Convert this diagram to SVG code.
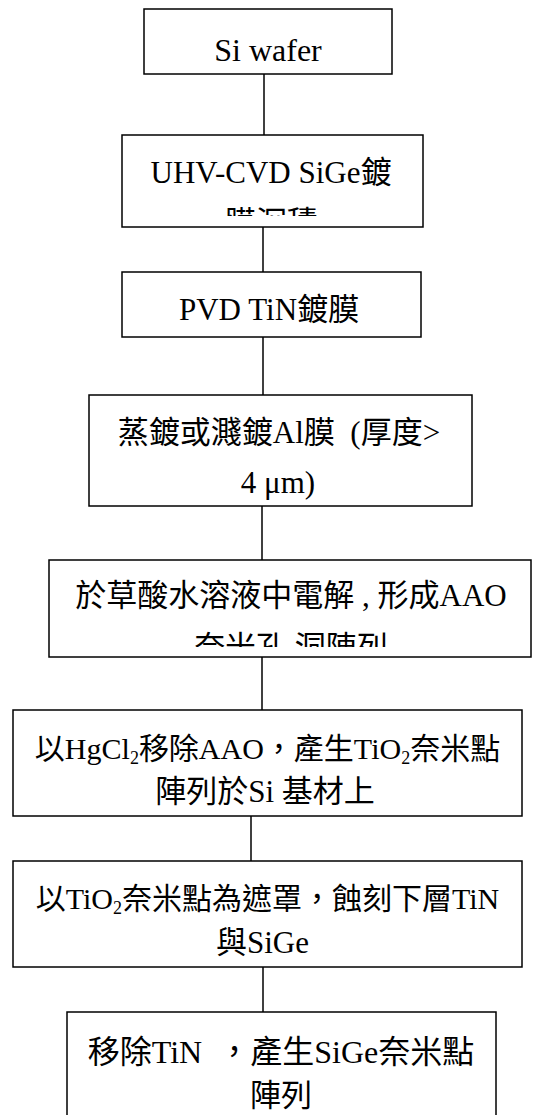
<svg xmlns="http://www.w3.org/2000/svg" width="549" height="1115" viewBox="0 0 549 1115">
<style>
.box{fill:#fff;stroke:#000;stroke-width:1.5}
.t{font-family:"Liberation Serif","Noto Sans CJK TC",serif;font-size:31px;fill:#000;text-anchor:middle}
.c{stroke:#000;stroke-width:1.5;fill:none}
</style>
<defs>
<clipPath id="clip2"><rect x="122" y="135" width="301" height="81"/></clipPath>
<clipPath id="clip5"><rect x="49" y="560" width="482" height="87"/></clipPath>
</defs>
<rect width="549" height="1115" fill="#fff"/>
<g id="connectors">
<line class="c" x1="264" y1="74" x2="264" y2="135"/>
<line class="c" x1="263" y1="227" x2="263" y2="272"/>
<line class="c" x1="263" y1="337" x2="263" y2="395"/>
<line class="c" x1="262" y1="506" x2="262" y2="560"/>
<line class="c" x1="262" y1="657" x2="262" y2="710"/>
<line class="c" x1="251" y1="816" x2="251" y2="861"/>
<line class="c" x1="263" y1="967" x2="263" y2="1012"/>
</g>
<g id="n1">
<rect class="box" x="144" y="9" width="248" height="65"/>
<text class="t" x="268" y="61" style="font-size:32px">Si wafer</text>
</g>
<g id="n2">
<rect class="box" x="122" y="135" width="301" height="92"/>
<g clip-path="url(#clip2)">
<text class="t" x="271" y="183">UHV-CVD SiGe鍍</text>
<text class="t" x="271" y="233">膜沉積</text>
</g>
</g>
<g id="n3">
<rect class="box" x="122" y="272" width="299" height="65"/>
<text class="t" x="269" y="320">PVD TiN鍍膜</text>
</g>
<g id="n4">
<rect class="box" x="89" y="395" width="383" height="111"/>
<text class="t" x="279" y="443">蒸鍍或濺鍍Al膜&#160;&#160;(厚度&gt;</text>
<text class="t" x="278" y="493">4 μm)</text>
</g>
<g id="n5">
<rect class="box" x="49" y="560" width="482" height="97"/>
<g clip-path="url(#clip5)">
<text class="t" x="291" y="606">於草酸水溶液中電解 , 形成AAO</text>
<text class="t" x="291" y="658">奈米孔 洞陣列</text>
</g>
</g>
<g id="n6">
<rect class="box" x="13" y="710" width="509" height="106"/>
<text class="t" x="267.5" y="759" style="font-size:30px">以HgCl<tspan font-size="18" dy="5">2</tspan><tspan dy="-5">移除AAO，產生TiO</tspan><tspan font-size="18" dy="5">2</tspan><tspan dy="-5">奈米點</tspan></text>
<text class="t" x="265" y="802">陣列於Si 基材上</text>
</g>
<g id="n7">
<rect class="box" x="13" y="861" width="509" height="106"/>
<text class="t" x="267.5" y="909" style="font-size:30px">以TiO<tspan font-size="18" dy="5">2</tspan><tspan dy="-5">奈米點為遮罩，蝕刻下層TiN</tspan></text>
<text class="t" x="262.5" y="953">與SiGe</text>
</g>
<g id="n8">
<rect class="box" x="67" y="1012" width="429" height="120"/>
<text class="t" x="281" y="1063" style="font-size:32px">移除TiN&#160;&#160;，產生SiGe奈米點</text>
<text class="t" x="281" y="1106">陣列</text>
</g>
</svg>
